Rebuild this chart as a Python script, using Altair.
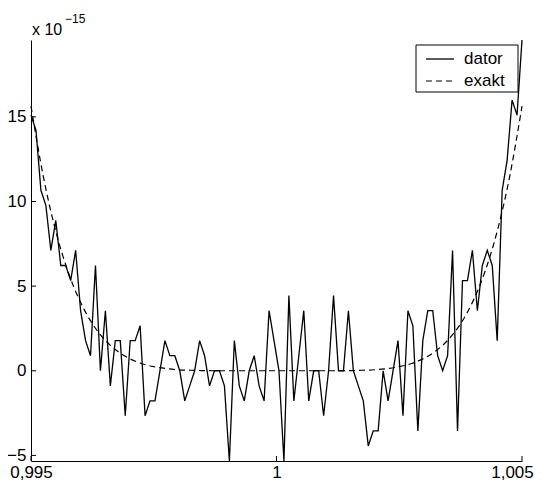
import altair as alt
import numpy as np
import pandas as pd

# ---- data (units of 1e-15) ----
x_start = 0.995
x_end = 1.005
dator = [15.10, 14.21, 10.66, 9.77, 7.11, 8.88, 6.22, 6.22, 5.33, 7.11,
         3.55, 1.78, 0.89, 6.22, 0.00, 3.55, -0.89, 1.78, 1.78, -2.66,
         1.78, 1.78, 2.66, -2.66, -1.78, -1.78, 0.00, 1.78, 0.89, 0.89,
         0.00, -1.78, -0.89, 0.00, 1.78, 0.89, -0.89, 0.00, 0.00, -0.89,
         -5.33, 1.78, -0.89, -1.78, 0.00, 0.89, -0.89, -1.78, 3.55, 1.78,
         0.00, -5.33, 4.44, -1.78, 0.89, 3.55, -1.78, 0.00, 0.00, -2.66,
         0.00, 4.44, 0.00, 0.00, 3.55, 0.00, -0.89, -1.78, -4.44, -3.55,
         -3.55, 0.00, -1.78, 0.00, 1.78, -2.66, 3.55, 2.66, -3.55, 1.78,
         3.55, 3.55, 0.89, 0.00, 0.89, 7.11, -3.55, 5.33, 5.33, 7.11,
         3.55, 6.22, 7.11, 6.22, 1.78, 10.66, 12.43, 15.99, 15.10, 19.54]
exakt = [15.63, 11.49, 8.30, 5.89, 4.10, 2.78, 1.84, 1.18, 0.73, 0.43,
         0.24, 0.13, 0.06, 0.03, 0.01, 0.00, 0.00, 0.00, 0.00, 0.00,
         0.00,
         0.00, 0.00, 0.00, 0.00, 0.00, 0.01, 0.03, 0.06, 0.13, 0.24,
         0.43, 0.73, 1.18, 1.84, 2.78, 4.10, 5.89, 8.30, 11.49, 15.63]
x_ticks = [0.995, 1.0, 1.005]
y_ticks = [-5, 0, 5, 10, 15]
series_names = ["dator", "exakt"]
y_min, y_max = -5.33, 19.54

df_dator = pd.DataFrame({"x": np.linspace(x_start, x_end, len(dator)), "y": dator})
df_exakt = pd.DataFrame({"x": np.linspace(x_start, x_end, len(exakt)), "y": exakt})

W, H = 491, 421
FONT = "Liberation Sans"

xscale = alt.Scale(domain=[x_start, x_end], nice=False, zero=False)
yscale = alt.Scale(domain=[y_min, y_max], nice=False, zero=False)

xaxis = alt.Axis(values=x_ticks, ticks=False, grid=False, title=None,
                 labelExpr="replace(format(datum.value, '.3~f'), '.', ',')",
                 labelFlush=False, labelOverlap=False, labelFontSize=17,
                 labelColor="black", labelPadding=3, domainColor="black",
                 domainWidth=1, labelBound=False,
                 labelOffset={"condition": {"test": "datum.value > 1.004", "value": -10},
                              "value": 0})
yaxis = alt.Axis(values=y_ticks, ticks=False, grid=False, title=None,
                 labelFontSize=17, labelColor="black", labelPadding=5,
                 domainColor="black", domainWidth=1, labelFlush=False,
                 labelOverlap=False)

X = alt.X("x:Q", scale=xscale, axis=xaxis)
Y = alt.Y("y:Q", scale=yscale, axis=yaxis)

line_exakt = alt.Chart(df_exakt).mark_line(
    color="black", strokeWidth=1.2, strokeDash=[6, 4], interpolate="monotone"
).encode(x=X, y=Y)

line_dator = alt.Chart(df_dator).mark_line(
    color="black", strokeWidth=1.3
).encode(x=X, y=Y)

# inward ticks
yt = alt.Chart(pd.DataFrame({"y": y_ticks})).mark_rule(color="black", strokeWidth=1).encode(
    y=Y, x=alt.value(0), x2=alt.value(5))
xt = alt.Chart(pd.DataFrame({"x": x_ticks})).mark_rule(color="black", strokeWidth=1).encode(
    x=X, y=alt.value(H), y2=alt.value(H - 5))

dummy = alt.Data(values=[{}])

# exponent label
exp_base = alt.Chart(dummy).mark_text(
    align="left", baseline="alphabetic", fontSize=16, font=FONT, color="black"
).encode(x=alt.value(1), y=alt.value(-5), text=alt.value("x 10"))
exp_sup = alt.Chart(dummy).mark_text(
    align="left", baseline="alphabetic", fontSize=12, font=FONT, color="black"
).encode(x=alt.value(34), y=alt.value(-17), text=alt.value("\u221215"))

# legend
leg_box = alt.Chart(dummy).mark_rect(fill="white", stroke="black", strokeWidth=1).encode(
    x=alt.value(385), x2=alt.value(487), y=alt.value(5), y2=alt.value(52))
leg_l1 = alt.Chart(dummy).mark_rule(color="black", strokeWidth=1.3).encode(
    x=alt.value(395), x2=alt.value(423), y=alt.value(19))
leg_l2 = alt.Chart(dummy).mark_rule(color="black", strokeWidth=1.2, strokeDash=[6, 4]).encode(
    x=alt.value(395), x2=alt.value(423), y=alt.value(41))
leg_t1 = alt.Chart(dummy).mark_text(
    align="left", baseline="middle", fontSize=17, font=FONT, color="black"
).encode(x=alt.value(433), y=alt.value(19), text=alt.value(series_names[0]))
leg_t2 = alt.Chart(dummy).mark_text(
    align="left", baseline="middle", fontSize=17, font=FONT, color="black"
).encode(x=alt.value(433), y=alt.value(41), text=alt.value(series_names[1]))

chart = alt.layer(
    line_exakt, line_dator, yt, xt, exp_base, exp_sup,
    leg_box, leg_l1, leg_l2, leg_t1, leg_t2
).properties(
    width=W, height=H,
    autosize=alt.AutoSizeParams(type="none"),
    padding={"left": 23, "top": 32, "right": 14, "bottom": 25},
).configure(font=FONT).configure_view(stroke=None)

chart.save("out.html", embed_options={"renderer": "svg", "actions": False})
